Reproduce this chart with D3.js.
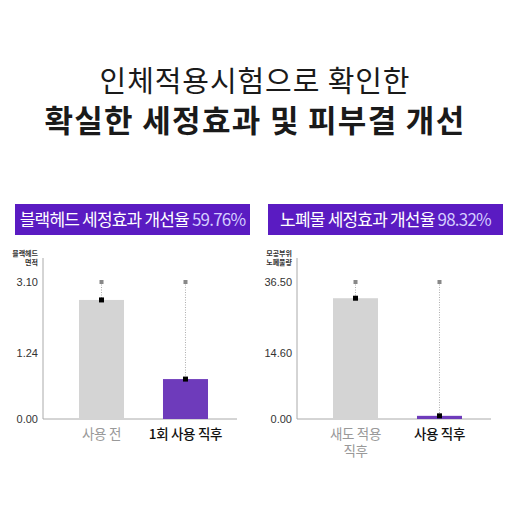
<!DOCTYPE html>
<html>
<head>
<meta charset="utf-8">
<script src="https://cdn.jsdelivr.net/npm/d3@7"></script>
<style>
  body { margin: 0; background: #fff; }
  svg { display: block; font-family: "Noto Sans CJK KR", "Noto Sans", sans-serif; }
</style>
</head>
<body>
<svg id="chart" width="510" height="510"></svg>
<script>
// --- data ---
var titleLines = ["인체적용시험으로 확인한", "확실한 세정효과 및 피부결 개선"];

var leftTitle = "블랙헤드 세정효과 개선율 ", leftRate = "59.76%";
var leftYLabel = ["블랙헤드", "면적"];
var leftCats = [["사용 전"], ["1회 사용 직후"]];
var leftValues = [2.63, 0.75];
var leftMax = [3.10, 3.10];
var leftTicks = [0, 1.24, 3.10];

var rightTitle = "노폐물 세정효과 개선율 ", rightRate = "98.32%";
var rightYLabel = ["모공부위", "노폐물량"];
var rightCats = [["새도 적용", "직후"], ["사용 직후"]];
var rightValues = [31.5, 0.7];
var rightMax = [36.5, 36.5];
var rightTicks = [0, 14.6, 36.5];

var svg = d3.select("#chart");

// title
svg.append("text")
    .attr("x", 255).attr("y", 92)
    .attr("text-anchor", "middle")
    .attr("font-size", 29).attr("font-weight", 400)
    .attr("letter-spacing", 0.9)
    .attr("fill", "#1a1a1a")
    .text(titleLines[0]);
svg.append("text")
    .attr("x", 255).attr("y", 132)
    .attr("text-anchor", "middle")
    .attr("font-size", 31).attr("font-weight", 700)
    .attr("letter-spacing", 1.3)
    .attr("fill", "#1a1a1a")
    .text(titleLines[1]);

function drawPanel(ox, boxX, title, rate, yLabel, cats, values, maxes, ticks) {
  var g = svg.append("g");

  // header box
  g.append("rect")
      .attr("x", boxX).attr("y", 204)
      .attr("width", 235).attr("height", 31)
      .attr("fill", "#5a1bc2");
  var t = g.append("text")
      .attr("x", boxX + 117.5).attr("y", 226)
      .attr("text-anchor", "middle")
      .attr("font-size", 17).attr("font-weight", 400)
      .attr("letter-spacing", -0.8)
      .attr("fill", "#fff");
  t.append("tspan").text(title);
  t.append("tspan").attr("fill", "#d4ccff").text(rate);

  // piecewise scale: ticks are not evenly spaced in the source
  var y = d3.scaleLinear().domain(ticks).range([419, 353, 282]);
  var x = d3.scaleBand().domain(d3.range(values.length))
      .range([ox + 15, ox + 186]).paddingInner(0.464).paddingOuter(0.25);

  // y label
  yLabel.forEach(function(s, i) {
    g.append("text")
        .attr("x", ox - 5).attr("y", 256 + i * 9)
        .attr("text-anchor", "end")
        .attr("font-size", 7).attr("font-weight", 700)
        .attr("fill", "#333")
        .text(s);
  });

  // axis lines
  g.append("line")
      .attr("x1", ox).attr("x2", ox).attr("y1", 258).attr("y2", 419)
      .attr("stroke", "#aaa");
  g.append("line")
      .attr("x1", ox).attr("x2", ox + 194).attr("y1", 419).attr("y2", 419)
      .attr("stroke", "#aaa");

  var yAxis = d3.axisLeft(y).tickValues(ticks).tickSize(0).tickPadding(5)
      .tickFormat(d3.format(".2f"));
  var ax = g.append("g").attr("transform", "translate(" + ox + ",0)").call(yAxis);
  ax.select(".domain").remove();
  ax.selectAll("text")
      .attr("font-size", 11)
      .attr("font-family", "Liberation Sans, sans-serif")
      .attr("fill", "#333");

  // bars
  g.selectAll(".bar").data(values).enter().append("rect")
      .attr("x", function(d, i) { return x(i); })
      .attr("y", function(d) { return y(d); })
      .attr("width", x.bandwidth())
      .attr("height", function(d) { return y(0) - y(d); })
      .attr("fill", function(d, i) { return i == 0 ? "#d4d4d4" : "#6e3bbb"; });

  // dotted connectors
  g.selectAll(".conn").data(values).enter().append("line")
      .attr("x1", function(d, i) { return x(i) + x.bandwidth() / 2; })
      .attr("x2", function(d, i) { return x(i) + x.bandwidth() / 2; })
      .attr("y1", function(d, i) { return y(maxes[i]); })
      .attr("y2", function(d) { return y(d); })
      .attr("stroke", "#999").attr("stroke-width", 0.8)
      .attr("stroke-dasharray", "1,1.5");

  g.selectAll(".maxpt").data(maxes).enter().append("rect")
      .attr("x", function(d, i) { return x(i) + x.bandwidth() / 2 - 2; })
      .attr("y", function(d) { return y(d) - 2; })
      .attr("width", 4).attr("height", 4)
      .attr("fill", "#888");

  g.selectAll(".pt").data(values).enter().append("rect")
      .attr("x", function(d, i) { return x(i) + x.bandwidth() / 2 - 2.5; })
      .attr("y", function(d) { return y(d) - 2.5; })
      .attr("width", 5).attr("height", 5)
      .attr("fill", "#000");

  // category labels
  cats.forEach(function(lines, i) {
    var lt = g.append("text")
        .attr("x", x(i) + x.bandwidth() / 2).attr("y", 439)
        .attr("text-anchor", "middle")
        .attr("font-size", 13.5).attr("font-weight", i == 0 ? 400 : 500)
        .attr("letter-spacing", -0.3)
        .attr("fill", i == 0 ? "#999" : "#111");
    lines.forEach(function(s, j) {
      lt.append("tspan")
          .attr("x", x(i) + x.bandwidth() / 2)
          .attr("dy", j == 0 ? 0 : 16.5)
          .text(s);
    });
  });
}

drawPanel(43, 15, leftTitle, leftRate, leftYLabel, leftCats, leftValues, leftMax, leftTicks);
drawPanel(297, 268, rightTitle, rightRate, rightYLabel, rightCats, rightValues, rightMax, rightTicks);
</script>
</body>
</html>
